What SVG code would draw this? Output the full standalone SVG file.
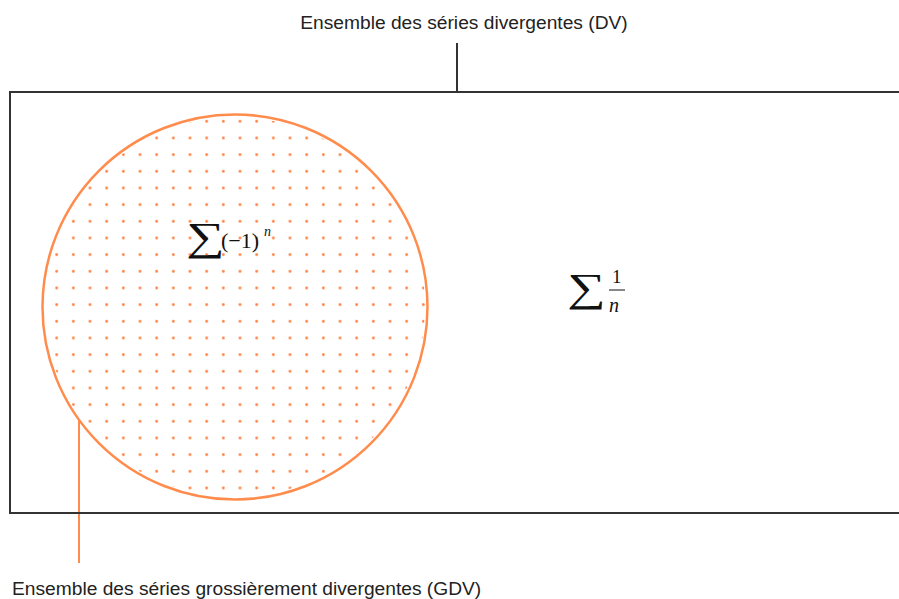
<svg xmlns="http://www.w3.org/2000/svg" width="899" height="599" viewBox="0 0 899 599">
<defs>
<pattern id="dots" x="81.67" y="146.33" width="16.667" height="16.667" patternUnits="userSpaceOnUse">
<circle cx="8.33" cy="8.33" r="1.4" fill="#ff7f3f"/>
</pattern>
<clipPath id="cc"><circle cx="235" cy="307" r="190"/></clipPath>
</defs>
<style>
.lbl{font-family:"Liberation Sans",Arial,sans-serif;font-size:19.2px;fill:#222}
.m{font-family:"Liberation Serif","DejaVu Serif",serif;fill:#111}
</style>
<rect width="899" height="599" fill="#fff"/>
<g id="connectors">
<line x1="457" y1="43" x2="457" y2="92" stroke="#333" stroke-width="2"/>
<line x1="79" y1="420" x2="79" y2="563" stroke="#ff8c4c" stroke-width="2"/>
</g>
<g id="dv">
<rect x="10" y="92" width="895" height="421" fill="none" stroke="#333" stroke-width="2"/>
<text class="lbl" x="464" y="29" text-anchor="middle">Ensemble des séries divergentes (DV)</text>
<g class="m">
<text transform="translate(567,301) scale(1.35,1)" x="0" y="0" font-size="40">∑</text>
<text x="612" y="283" font-size="19">1</text>
<line x1="609" y1="290" x2="625" y2="290" stroke="#111" stroke-width="1"/>
<text x="609" y="312" font-size="20" font-style="italic">n</text>
</g>
</g>
<g id="gdv">
<rect x="40" y="110" width="400" height="400" fill="url(#dots)" clip-path="url(#cc)"/>
<circle cx="235" cy="307" r="192.5" fill="none" stroke="#ff8c4c" stroke-width="2.5"/>
<g class="m">
<text transform="translate(186,250) scale(1.35,1)" x="0" y="0" font-size="40">∑</text>
<text x="221" y="248" font-size="22">(−1)</text>
<text x="264" y="236" font-size="14" font-style="italic">n</text>
</g>
<text class="lbl" x="12" y="595">Ensemble des séries grossièrement divergentes (GDV)</text>
</g>
</svg>
